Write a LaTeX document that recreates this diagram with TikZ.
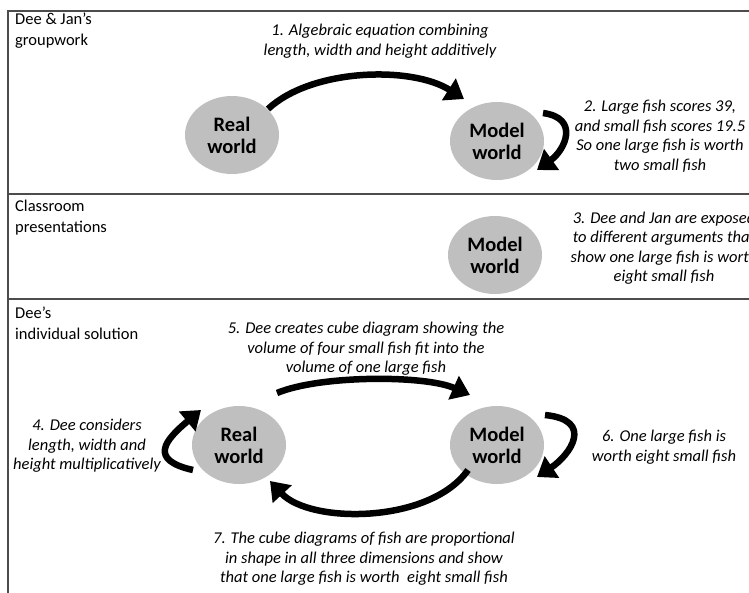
\documentclass[tikz,border=0pt]{standalone}
\usepackage{fontspec}
\setmainfont{Carlito}
\usetikzlibrary{arrows.meta,calc,shapes.geometric}
\begin{document}
\begin{tikzpicture}[x=1pt,y=-1pt,
  world/.style={ellipse, fill=black!25, minimum width=94pt, minimum height=78pt, inner sep=0pt, align=center, font=\fontsize{20.5}{22}\selectfont\bfseries},
  lbl/.style={align=center, font=\fontsize{16.5}{19.5}\selectfont\itshape, inner sep=0pt},
  sec/.style={align=left, anchor=north west, font=\fontsize{16.5}{21}\selectfont, inner sep=0pt},
  frameline/.style={line width=1.8pt, draw=black!70},
  bigarrow/.style={line width=6.5pt, -{Triangle[length=18pt,width=25pt]}},
]
\useasboundingbox (0,0) rectangle (749,592);
% frame
\coordinate (ftl) at (8,11);
\coordinate (ftr) at (752,11);
\coordinate (fbl) at (8,595);
\coordinate (d1l) at (8,194);
\coordinate (d1r) at (752,194);
\coordinate (d2l) at (8,299);
\coordinate (d2r) at (752,299);
\draw[frameline] (fbl) -- (ftl) -- (ftr);
\draw[frameline] (d1l) -- (d1r);
\draw[frameline] (d2l) -- (d2r);

% section labels
\node[sec] (s1) at (15,13) {Dee \& Jan’s\\groupwork};
\node[sec] (s2) at (15,200) {Classroom\\presentations};
\node[sec] (s3) at (15,307) {Dee’s\\individual solution};

% top section
\node[world] (rw1) at (232,135) {Real\\world};
\node[world] (mw1) at (497,141) {Model\\world};
\node[lbl] (t1) at (380,41) {1. Algebraic equation combining\\length, width and height additively};
\node[lbl] (t2) at (660,136) {2. Large fish scores 39,\\and small fish scores 19.5\\So one large fish is worth\\two small fish};
\draw[bigarrow] ($(rw1.center)+(36,-26)$) .. controls ($(rw1.center)+(80,-67)$) and ($(mw1.center)+(-85,-75)$) .. ($(mw1.center)+(-33,-42)$);
\draw[bigarrow] ($(mw1.center)+(46,-28)$) .. controls ($(mw1.center)+(83,-23)$) and ($(mw1.center)+(68,9)$) .. ($(mw1.center)+(40,29)$);

% classroom section
\node[world] (mw2) at (495,255) {Model\\world};
\node[lbl] (t3) at (664,248) {3. Dee and Jan are exposed\\to different arguments that\\show one large fish is worth\\eight small fish};

% bottom section
\node[world] (rw3) at (239,445) {Real\\world};
\node[world] (mw3) at (497,445) {Model\\world};
\node[lbl] (t5) at (366,349) {5. Dee creates cube diagram showing the\\volume of four small fish fit into the\\volume of one large fish};
\node[lbl] (t4) at (87,446) {4. Dee considers\\length, width and\\height multiplicatively};
\node[lbl] (t6) at (664,447) {6. One large fish is\\worth eight small fish};
\node[lbl] (t7) at (364,559) {7. The cube diagrams of fish are proportional\\in shape in all three dimensions and show\\that one large fish is worth~ eight small fish};
\draw[bigarrow] ($(rw3.center)+(38,-52)$) .. controls ($(rw3.center)+(81,-70)$) and ($(mw3.center)+(-72,-70)$) .. ($(mw3.center)+(-27,-50)$);
\draw[bigarrow] ($(mw3.center)+(-29,25)$) .. controls ($(mw3.center)+(-67,79)$) and ($(rw3.center)+(71,79)$) .. ($(rw3.center)+(31,36)$);
\draw[bigarrow] ($(rw3.center)+(-46,25)$) .. controls ($(rw3.center)+(-91,15)$) and ($(rw3.center)+(-74,-5)$) .. ($(rw3.center)+(-38,-35)$);
\draw[bigarrow] ($(mw3.center)+(48,-30)$) .. controls ($(mw3.center)+(98,-25)$) and ($(mw3.center)+(73,10)$) .. ($(mw3.center)+(40,32)$);
\end{tikzpicture}
\end{document}
